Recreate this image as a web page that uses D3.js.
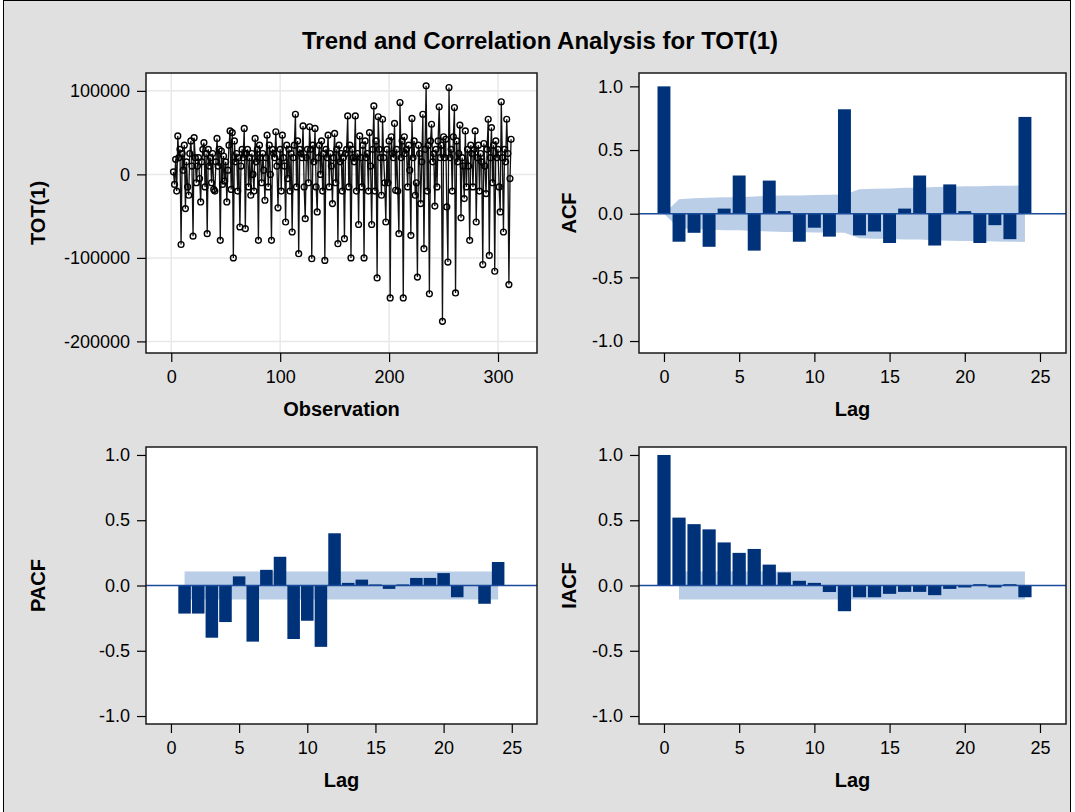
<!DOCTYPE html>
<html lang="en">
<head>
<meta charset="UTF-8" />
<title>Trend and Correlation Analysis for TOT(1)</title>
<script src="https://d3js.org/d3.v7.min.js"></script>
<style>
body { margin: 0; background: #fff; }
svg { font-family: "Liberation Sans", Arial, sans-serif; }
.axis path.domain { display: none; }
.axis line { stroke: #000; stroke-width: 1.2; }
.axis text { font-size: 18px; fill: #000; font-family: "Liberation Sans", Arial, sans-serif; }
.lbl { font-size: 20px; font-weight: bold; }
.title { font-size: 24px; font-weight: bold; }
</style>
</head>
<body>
<script>

// ---- data ----
var obsStart = 2;   // first differenced observation
var tot1 = [
  3000, -12000, 18000, -20000, 46000, 20000, 30000, -84000, 25000, 5000,
  35000, -41000, 15000, -15000, -25000, 25000, 40000, 10000, -74000, 44000, 20000, -10000,
  10000, 20000, -5000, -33000, 15000, 30000, 38000, -15000, 25000, -71000, 30000, 10000,
  20000, -10000, 25000, -18000, -20000, 15000, 43000, 10000, 30000, -79000, 28000, -12000,
  22000, -8000, 15000, -33000, 5000, 35000, 52000, -18000, 50000, -100000, 40000, 15000,
  25000, -20000, 20000, -63000, 10000, 30000, 20000, 55000, -65000, 25000, 30000, -15000,
  20000, -25000, 25000, 0, -20000, 43000, 15000, 30000, -79000, 35000, 20000, -10000,
  25000, 5000, -31000, 20000, 47000, -15000, 35000, 0, -79000, 30000, 25000, 20000,
  51000, 10000, -40000, 15000, 30000, -20000, 47000, 20000, 10000, -57000, 35000, -5000,
  30000, -20000, 25000, -69000, 20000, 35000, 72000, -15000, 40000, -95000, 30000, 25000,
  20000, 58000, -15000, -53000, 20000, 30000, -10000, 57000, 30000, -101000, 35000, 15000,
  55000, -15000, -45000, 20000, 35000, 0, 40000, -20000, 25000, -103000, 30000, 20000,
  47000, -15000, 25000, 10000, -35000, 20000, 49000, -10000, 30000, -83000, 35000, 15000,
  25000, -20000, 20000, -77000, 25000, 30000, 70000, -15000, 35000, -100000, 30000, 20000,
  15000, 70000, -20000, 25000, -60000, 46000, 20000, -15000, 35000, -100000, 40000, 20000,
  25000, -20000, 50000, 10000, -60000, 30000, 82000, -20000, 40000, -124000, 69000, 30000,
  20000, -25000, 66000, 20000, -10000, -57000, 30000, -10000, 40000, -148000, 45000, 25000,
  20000, 61000, -19000, 30000, -20000, -71000, 86000, 20000, 40000, -148000, 45000, 25000,
  30000, -15000, 35000, 5000, -73000, 67000, 20000, 40000, -25000, -10000, -123000, 35000,
  25000, -35000, 15000, 72000, -89000, 30000, 106000, -20000, 35000, -143000, 40000, 60000,
  15000, 25000, -38000, 30000, -15000, 40000, 81000, 20000, 35000, -176000, 45000, 20000,
  42000, -39000, -105000, 104000, 20000, 30000, -20000, 45000, 80000, -142000, 40000, 15000,
  25000, 59000, -52000, 20000, 10000, -29000, 52000, -15000, 30000, 10000, -79000, 35000,
  25000, -15000, 30000, 52000, -57000, 20000, 35000, -20000, 25000, 15000, -108000, 37000,
  10000, -23000, 30000, 66000, -97000, 20000, 56000, -10000, 35000, -116000, 40000, 20000,
  30000, -15000, -45000, 87000, 20000, -69000, 30000, 15000, 66000, 25000, -132000, -5000,
  42000
];

var lags = [0, 1, 2, 3, 4, 5, 6, 7, 8, 9, 10, 11, 12, 13, 14, 15, 16, 17, 18, 19, 20, 21, 22, 23, 24];
var acf = [1.0, -0.22, -0.15, -0.26, 0.04, 0.30, -0.29, 0.26, 0.02, -0.22, -0.11, -0.18,
           0.82, -0.17, -0.14, -0.23, 0.04, 0.30, -0.25, 0.23, 0.02, -0.23, -0.09, -0.20, 0.76];
var acfBand = [0, 0.114, 0.122, 0.125, 0.130, 0.130, 0.136, 0.140, 0.143, 0.143, 0.147, 0.148,
               0.150, 0.193, 0.196, 0.198, 0.203, 0.203, 0.209, 0.212, 0.215, 0.215, 0.219, 0.220, 0.222];

var pacfLags = [1, 2, 3, 4, 5, 6, 7, 8, 9, 10, 11, 12, 13, 14, 15, 16, 17, 18, 19, 20, 21, 22, 23, 24];
var pacf = [-0.215, -0.215, -0.40, -0.28, 0.07, -0.43, 0.12, 0.22, -0.41, -0.27, -0.47, 0.40,
            0.02, 0.045, 0.008, -0.026, 0.008, 0.058, 0.058, 0.095, -0.09, 0.003, -0.14, 0.18];
var pacfBandLags = [1, 24];
var pacfBand = [0.108, 0.108];

var iacf = [1.0, 0.52, 0.47, 0.43, 0.33, 0.25, 0.28, 0.16, 0.10, 0.036, 0.02, -0.05,
            -0.197, -0.09, -0.09, -0.064, -0.049, -0.049, -0.074, -0.026, -0.015, 0.01, -0.015, 0.01, -0.09];
var iacfBandLags = [1, 24];
var iacfBand = [0.108, 0.108];

var obsTicks = [0, 100, 200, 300];
var totTicks = [-200000, -100000, 0, 100000];
var lagTicks = [0, 5, 10, 15, 20, 25];
var corrTicks = [-1, -0.5, 0, 0.5, 1];

// ---- layout ----
var W = 1075, H = 812;
var barColor = "#00327a", bandColor = "#bacee7", zeroColor = "#1a4a9a";

var svg = d3.select("body").append("svg")
  .attr("width", W)
  .attr("height", H);

svg.append("rect")
  .attr("x", 3.5).attr("y", 0.5)
  .attr("width", 1067).attr("height", 830)
  .attr("fill", "#e0e0e0")
  .attr("stroke", "#000");

svg.append("text")
  .attr("class", "title")
  .attr("x", 540).attr("y", 49)
  .attr("text-anchor", "middle")
  .text("Trend and Correlation Analysis for TOT(1)");

var boxTL = {x0: 146, x1: 537, y0: 73, y1: 353, lx: 45},
    boxTR = {x0: 639, x1: 1066, y0: 73, y1: 353, lx: 576},
    boxBL = {x0: 146, x1: 537, y0: 447, y1: 724, lx: 45},
    boxBR = {x0: 639, x1: 1066, y0: 447, y1: 724, lx: 576};

function corrFmt(d) { return d.toFixed(1); }

function panelBg(b) {
  svg.append("rect")
    .attr("x", b.x0).attr("y", b.y0)
    .attr("width", b.x1 - b.x0).attr("height", b.y1 - b.y0)
    .attr("fill", "#fff");
}

function panelAxes(b, x, y, xt, yt, fy, xLab, yLab) {
  svg.append("rect")
    .attr("x", b.x0).attr("y", b.y0)
    .attr("width", b.x1 - b.x0).attr("height", b.y1 - b.y0)
    .attr("fill", "none")
    .attr("stroke", "#1a1a1a")
    .attr("stroke-width", 1.5);

  svg.append("g")
    .attr("class", "axis")
    .attr("transform", "translate(0," + b.y1 + ")")
    .call(d3.axisBottom(x).tickValues(xt).tickSize(9).tickPadding(8).tickSizeOuter(0));

  svg.append("g")
    .attr("class", "axis")
    .attr("transform", "translate(" + b.x0 + ",0)")
    .call(d3.axisLeft(y).tickValues(yt).tickFormat(fy).tickSize(9).tickPadding(7).tickSizeOuter(0));

  svg.append("text")
    .attr("class", "lbl")
    .attr("x", (b.x0 + b.x1) / 2).attr("y", b.y1 + 63)
    .attr("text-anchor", "middle")
    .text(xLab);

  svg.append("text")
    .attr("class", "lbl")
    .attr("transform", "translate(" + b.lx + "," + (b.y0 + b.y1) / 2 + ") rotate(-90)")
    .attr("text-anchor", "middle")
    .text(yLab);
}

// ---- top left: the series ----
var xObs = d3.scaleLinear().domain([-23.2, 335.8]).range([boxTL.x0, boxTL.x1]);
var yTot = d3.scaleLinear().domain([-213900, 121400]).range([boxTL.y1, boxTL.y0]);

panelBg(boxTL);

var grid = svg.append("g").attr("stroke", "#e8e8e8").attr("stroke-width", 1.5);
grid.selectAll(".gx").data(obsTicks).enter().append("line")
  .attr("x1", function(d) { return xObs(d); }).attr("x2", function(d) { return xObs(d); })
  .attr("y1", boxTL.y0).attr("y2", boxTL.y1);
grid.selectAll(".gy").data(totTicks).enter().append("line")
  .attr("x1", boxTL.x0).attr("x2", boxTL.x1)
  .attr("y1", function(d) { return yTot(d); }).attr("y2", function(d) { return yTot(d); });

var series = tot1.map(function(v, i) { return {obs: obsStart + i, v: v}; });

svg.append("path")
  .datum(series)
  .attr("fill", "none")
  .attr("stroke", "#111")
  .attr("stroke-width", 1.3)
  .attr("d", d3.line()
    .x(function(d) { return xObs(d.obs); })
    .y(function(d) { return yTot(d.v); }));

svg.append("g").selectAll("circle")
  .data(series)
  .enter().append("circle")
    .attr("cx", function(d) { return xObs(d.obs); })
    .attr("cy", function(d) { return yTot(d.v); })
    .attr("r", 2.9)
    .attr("fill", "none")
    .attr("stroke", "#000")
    .attr("stroke-width", 1.4);

panelAxes(boxTL, xObs, yTot, obsTicks, totTicks, function(d) { return String(d); }, "Observation", "TOT(1)");

// ---- correlation panels ----
function corrPanel(b, xDom, yDom, vals, vlags, bandLags, band, barFrac, yLab) {
  var x = d3.scaleLinear().domain(xDom).range([b.x0, b.x1]);
  var y = d3.scaleLinear().domain(yDom).range([b.y1, b.y0]);
  var bw = (x(1) - x(0)) * barFrac;

  panelBg(b);

  var bandData = bandLags.map(function(l, i) { return {lag: l, w: band[i]}; });
  svg.append("path")
    .datum(bandData)
    .attr("fill", bandColor)
    .attr("d", d3.area()
      .x(function(d) { return x(d.lag); })
      .y0(function(d) { return y(-d.w); })
      .y1(function(d) { return y(d.w); }));

  svg.append("g").selectAll("rect")
    .data(vals)
    .enter().append("rect")
      .attr("fill", barColor)
      .attr("x", function(d, i) { return x(vlags[i]) - bw / 2; })
      .attr("width", bw)
      .attr("y", function(d) { return y(Math.max(0, d)); })
      .attr("height", function(d) { return Math.abs(y(d) - y(0)); });

  svg.append("line")
    .attr("x1", b.x0).attr("x2", b.x1)
    .attr("y1", y(0)).attr("y2", y(0))
    .attr("stroke", zeroColor)
    .attr("stroke-width", 1.5);

  panelAxes(b, x, y, lagTicks, corrTicks, corrFmt, "Lag", yLab);
}

corrPanel(boxTR, [-1.66, 26.73], [-1.094, 1.105], acf, lags, lags, acfBand, 0.86, "ACF");
corrPanel(boxBL, [-1.83, 26.85], [-1.061, 1.061], pacf, pacfLags, pacfBandLags, pacfBand, 0.92, "PACF");
corrPanel(boxBR, [-1.66, 26.73], [-1.061, 1.061], iacf, lags, iacfBandLags, iacfBand, 0.88, "IACF");

</script>
</body>
</html>
